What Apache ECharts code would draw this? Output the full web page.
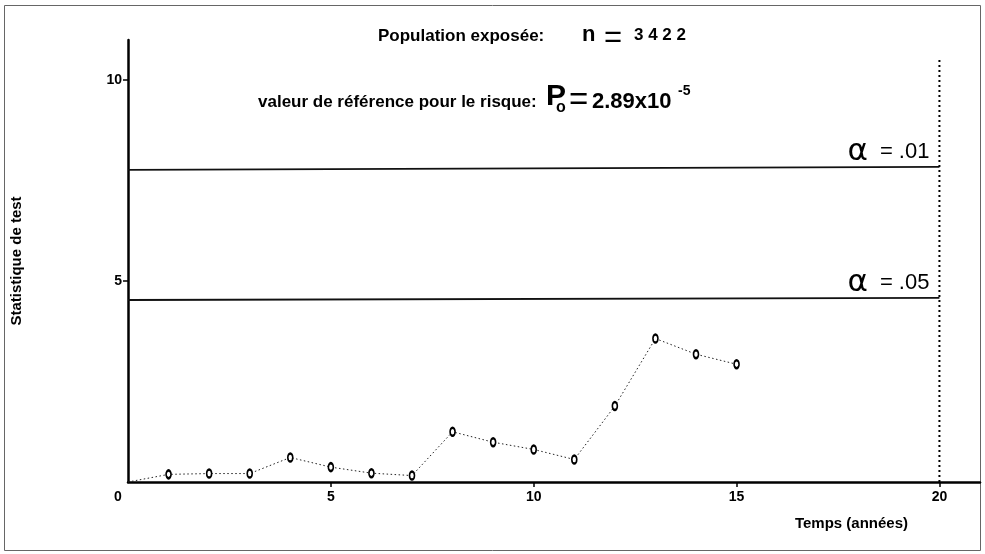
<!DOCTYPE html>
<html>
<head>
<meta charset="utf-8">
<script src="https://cdn.jsdelivr.net/npm/echarts@6/dist/echarts.min.js"></script>
<style>
  html, body { margin: 0; padding: 0; background: #fff; }
  #chart { width: 985px; height: 554px; }
</style>
</head>
<body>
<div id="chart"></div>
<script>
// Observed test statistic by year
const years = [0, 1, 2, 3, 4, 5, 6, 7, 8, 9, 10, 11, 12, 13, 14, 15];
const testStat = [0, 0.19, 0.21, 0.21, 0.61, 0.37, 0.22, 0.16, 1.25, 0.99, 0.81, 0.56, 1.89, 3.57, 3.18, 2.93];

// Critical thresholds (start and end of each horizontal line)
const alphaValues = ['.01', '.05'];
const thresholdX = [0, 20];
const threshold01 = [7.77, 7.84];
const threshold05 = [4.53, 4.58];

// End-of-follow-up marker
const followUpEnd = 20;
const followUpTop = 10.5;

// Axis ticks and labels
const xTickValues = [5, 10, 15, 20];
const xLabelValues = [0, 5, 10, 15, 20];
const yTickValues = [5, 10];

const FONT = 'Liberation Sans, Arial, sans-serif';

const chart = echarts.init(document.getElementById('chart'), null, { renderer: 'canvas' });

const statData = years.map((t, i) => {
  const item = { value: [t, testStat[i]] };
  if (i === 0) item.symbol = 'none';
  return item;
});

function alphaLabel(level) {
  return {
    show: true,
    formatter: '{a|α}{g|}{b|= ' + level + '}{p|}',
    align: 'right', verticalAlign: 'bottom',
    distance: 0,
    rich: {
      a: { fontFamily: 'DejaVu Sans', fontSize: 31, color: '#000', lineHeight: 26 },
      g: { width: 12 },
      b: { fontFamily: FONT, fontSize: 22, color: '#000', lineHeight: 26 },
      p: { width: 10, lineHeight: 30 }
    }
  };
}

chart.setOption({
  animation: false,
  backgroundColor: '#fff',
  grid: { left: 128, right: 5, top: 40, bottom: 72 },
  xAxis: {
    type: 'value',
    min: 0, max: 21, interval: 5,
    splitLine: { show: false },
    axisLine: { show: true, lineStyle: { color: '#000', width: 2.5 } },
    axisTick: { show: true, length: 5, lineStyle: { color: '#000', width: 1.5 }, customValues: xTickValues },
    axisLabel: {
      customValues: xLabelValues,
      margin: 8,
      color: '#000',
      fontFamily: FONT,
      fontWeight: 'bold',
      fontSize: 14,
      formatter: v => (v === 0 ? '{z|0}' : String(v)),
      rich: { z: { padding: [0, 20, 0, 0], fontFamily: FONT, fontWeight: 'bold', fontSize: 14, color: '#000' } }
    },
    name: 'Temps (années)',
    nameLocation: 'end',
    nameGap: 0,
    nameTextStyle: {
      color: '#000', fontFamily: FONT, fontWeight: 'bold', fontSize: 15,
      align: 'right', verticalAlign: 'top', padding: [34, 72, 0, 0]
    }
  },
  yAxis: {
    type: 'value',
    min: 0, max: 11, interval: 5,
    splitLine: { show: false },
    axisLine: { show: true, lineStyle: { color: '#000', width: 2.5 } },
    axisTick: { show: true, length: 5, lineStyle: { color: '#000', width: 1.5 }, customValues: yTickValues },
    axisLabel: {
      customValues: yTickValues,
      margin: 6,
      color: '#000',
      fontFamily: FONT,
      fontWeight: 'bold',
      fontSize: 14
    },
    name: 'Statistique de test',
    nameLocation: 'middle',
    nameGap: 104,
    nameRotate: 90,
    nameTextStyle: { color: '#000', fontFamily: FONT, fontWeight: 'bold', fontSize: 15 }
  },
  series: [
    {
      name: 'statistique',
      type: 'line',
      data: statData,
      symbol: 'emptyCircle',
      symbolSize: [5, 8],
      showAllSymbol: true,
      lineStyle: { color: '#222', width: 1, type: [1.5, 2.5] },
      itemStyle: { color: '#000', borderColor: '#000', borderWidth: 1.1 },
      z: 3
    },
    {
      name: 'alpha ' + alphaValues[0],
      type: 'line',
      data: thresholdX.map((x, i) => [x, threshold01[i]]),
      symbol: 'none',
      lineStyle: { color: '#111', width: 1.8 },
      endLabel: alphaLabel(alphaValues[0])
    },
    {
      name: 'alpha ' + alphaValues[1],
      type: 'line',
      data: thresholdX.map((x, i) => [x, threshold05[i]]),
      symbol: 'none',
      lineStyle: { color: '#111', width: 1.8 },
      endLabel: alphaLabel(alphaValues[1])
    },
    {
      name: 'fin du suivi',
      type: 'line',
      data: [[followUpEnd, 0], [followUpEnd, followUpTop]],
      symbol: 'none',
      lineStyle: { color: '#000', width: 2, type: [2, 3] }
    }
  ],
  graphic: [
    {
      type: 'rect', silent: true,
      shape: { x: 4.5, y: 5.5, width: 976, height: 545 },
      style: { fill: null, stroke: '#666', lineWidth: 1 }
    },
    {
      type: 'text', left: 378, top: 28,
      style: { text: 'Population exposée:', font: 'bold 17px ' + FONT, fill: '#000' }
    },
    {
      type: 'text', left: 582, top: 24,
      style: { text: 'n', font: 'bold 22px ' + FONT, fill: '#000' }
    },
    {
      type: 'text', left: 604, top: 23,
      style: { text: '=', font: '31px ' + FONT, fill: '#000' }
    },
    {
      type: 'text', left: 634, top: 27,
      style: { text: '3 4 2 2', font: 'bold 17px ' + FONT, fill: '#000' }
    },
    {
      type: 'text', left: 258, top: 94,
      style: { text: 'valeur de référence pour le risque:', font: 'bold 17px ' + FONT, fill: '#000' }
    },
    {
      type: 'text', left: 546, top: 82,
      style: { text: 'P', font: 'bold 30px ' + FONT, fill: '#000' }
    },
    {
      type: 'text', left: 556, top: 100,
      style: { text: 'o', font: 'bold 16px ' + FONT, fill: '#000' }
    },
    {
      type: 'text', left: 569, top: 84,
      style: { text: '=', font: '33px ' + FONT, fill: '#000' }
    },
    {
      type: 'text', left: 592, top: 91,
      style: { text: '2.89x10', font: 'bold 22px ' + FONT, fill: '#000' }
    },
    {
      type: 'text', left: 678, top: 84,
      style: { text: '-5', font: 'bold 14px ' + FONT, fill: '#000' }
    }
  ]
});
</script>
</body>
</html>
